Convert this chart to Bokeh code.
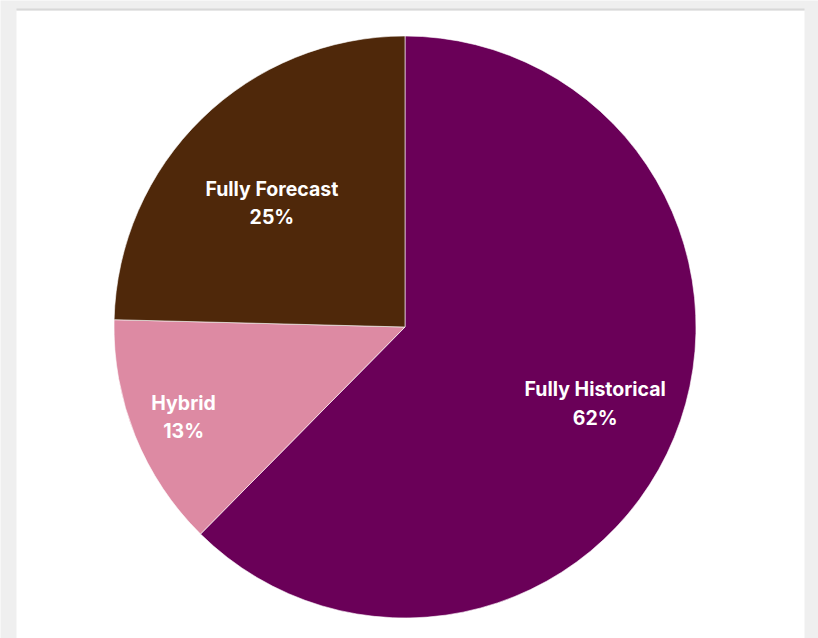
import math
from bokeh.plotting import figure
from bokeh.models import ColumnDataSource, Range1d
from bokeh.core.properties import value
from bokeh.embed import file_html
from bokeh.resources import INLINE

# ---- data ----
categories = ["Fully Historical", "Hybrid", "Fully Forecast"]
shares = [0.624, 0.130, 0.246]
pct_labels = ["62%", "13%", "25%"]
colors = ["#6a0058", "#dd8aa3", "#4f280a"]

# ---- label layout (polar, relative to pie centre) ----
label_dist_px = [205, 239, 182]
label_angle_deg = [-21.9, 202.1, 137.0]

# ---- layout ----
W, H = 818, 638
cx, cy, R = 404.5, 638 - 326.5, 291

p = figure(width=W, height=H, output_backend="svg", toolbar_location=None,
           x_range=Range1d(0, W), y_range=Range1d(0, H), min_border=0)
p.axis.visible = False
p.grid.visible = False
p.outline_line_color = None
p.background_fill_color = "#efefef"
p.border_fill_color = "#efefef"

# white panel with top rule
p.quad(left=[16], right=[804], bottom=[-5], top=[628], fill_color="white", line_color=None)
p.quad(left=[16], right=[804], bottom=[628], top=[630], fill_color="#d8d8d8", line_color=None)

# wedges: start at 12 o'clock, going clockwise
starts, ends = [], []
a = math.pi / 2
for s in shares:
    sweep = s * 2 * math.pi
    starts.append(a - sweep)
    ends.append(a)
    a -= sweep

src = ColumnDataSource(dict(start=starts, end=ends, color=colors))
p.wedge(x=cx, y=cy, radius=R, start_angle="start", end_angle="end",
        fill_color="color", line_color="white", line_width=0.6, source=src)

lx = [cx + d * math.cos(math.radians(g)) for d, g in zip(label_dist_px, label_angle_deg)]
ly = [cy + d * math.sin(math.radians(g)) for d, g in zip(label_dist_px, label_angle_deg)]
texts = [f"{c}\n{pl}" for c, pl in zip(categories, pct_labels)]
lsrc = ColumnDataSource(dict(x=lx, y=ly, t=texts))
p.text(x="x", y="y", text="t", source=lsrc, text_color="white",
       text_font=value("Inter"), text_font_style="bold", text_font_size="19.5px",
       text_align="center", text_baseline="middle", text_line_height=1.18)

open("out.html", "w").write(file_html(p, INLINE))
